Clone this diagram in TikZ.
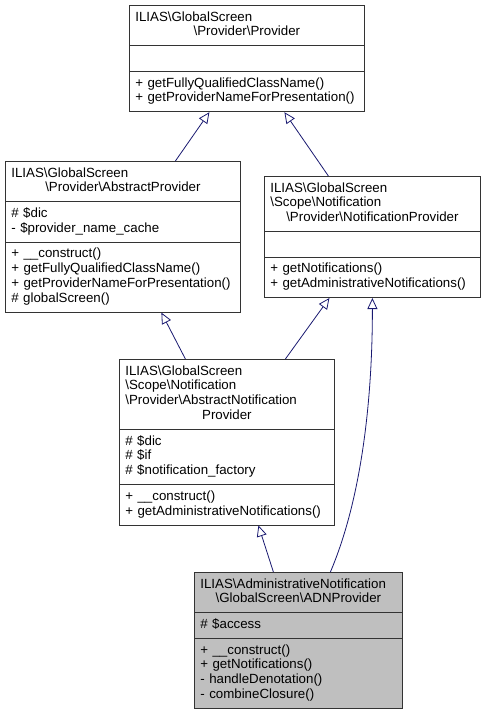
\documentclass[tikz,border=0pt]{standalone}
\usepackage{fontspec}
\setmainfont{Liberation Sans}
\usetikzlibrary{shapes.multipart,arrows.meta}
\definecolor{edgeblue}{HTML}{191970}

\begin{document}
\begin{tikzpicture}[x=1pt,y=1pt,
	class/.style={rectangle split, rectangle split parts=3, draw=black!80, line width=0.8pt,
		anchor=north west, inner xsep=6pt, inner ysep=5pt, align=left,
		font=\fontsize{13.3}{14.8}\selectfont},
	inherit/.style={edgeblue, line width=0.8pt, -{Triangle[open,length=11pt,width=10pt]}}]
			\useasboundingbox (0,0) rectangle (485,-713);
			\node[class, text width=223pt] (prov) at (129,-5)
			{\strut ILIAS\textbackslash GlobalScreen\\
				\hspace*{\fill}\textbackslash Provider\textbackslash Provider\hspace*{\fill}\strut
				\nodepart{two}\strut
				\nodepart{three}\strut + getFullyQualifiedClassName()\\
				+ getProviderNameForPresentation()\strut};
			\node[class, text width=223pt] (aprov) at (5,-161)
			{\strut ILIAS\textbackslash GlobalScreen\\
				\hspace*{\fill}\textbackslash Provider\textbackslash AbstractProvider\hspace*{\fill}\strut
				\nodepart{two}\strut \# \$dic\\
				- \$provider\_name\_cache\strut
				\nodepart{three}\strut + \_\_construct()\\
				+ getFullyQualifiedClassName()\\
				+ getProviderNameForPresentation()\\
				\# globalScreen()\strut};
			\node[class, text width=204pt] (nprov) at (264,-176)
			{\strut ILIAS\textbackslash GlobalScreen\\
				\textbackslash Scope\textbackslash Notification\\
				\hspace*{\fill}\textbackslash Provider\textbackslash NotificationProvider\hspace*{\fill}\strut
				\nodepart{two}\strut
				\nodepart{three}\strut + getNotifications()\\
				+ getAdministrativeNotifications()\strut};
			\node[class, text width=203pt] (anprov) at (119,-359)
			{\strut ILIAS\textbackslash GlobalScreen\\
				\textbackslash Scope\textbackslash Notification\\
				\textbackslash Provider\textbackslash AbstractNotification\\
				\hspace*{\fill}Provider\hspace*{\fill}\strut
				\nodepart{two}\strut \# \$dic\\
				\# \$if\\
				\# \$notification\_factory\strut
				\nodepart{three}\strut + \_\_construct()\\
				+ getAdministrativeNotifications()\strut};
			\node[class, text width=196pt, fill=black!25] (adn) at (194,-572)
			{\strut ILIAS\textbackslash AdministrativeNotification\\
				\hspace*{\fill}\textbackslash GlobalScreen\textbackslash ADNProvider\hspace*{\fill}\strut
				\nodepart{two}\strut \# \$access
				\nodepart{three}\strut + \_\_construct()\\
				+ getNotifications()\\
				- handleDenotation()\\
				- combineClosure()\strut};
			\path[inherit]
			([xshift=52.5pt]aprov.north) edge ([xshift=-37.5pt]prov.south)
			([xshift=-44pt]nprov.north) edge ([xshift=37.5pt]prov.south)
			([xshift=-41.5pt]anprov.north) edge ([xshift=38.5pt]aprov.south)
			([xshift=58.5pt]anprov.north) edge ([xshift=-43pt]nprov.south)
			([xshift=-25pt]adn.north) edge ([xshift=31.5pt]anprov.south)
			([xshift=32pt]adn.north)
			edge [out=67, in=-90, out distance=78pt, in distance=105pt] (nprov.south);
		\end{tikzpicture}
\end{document}
